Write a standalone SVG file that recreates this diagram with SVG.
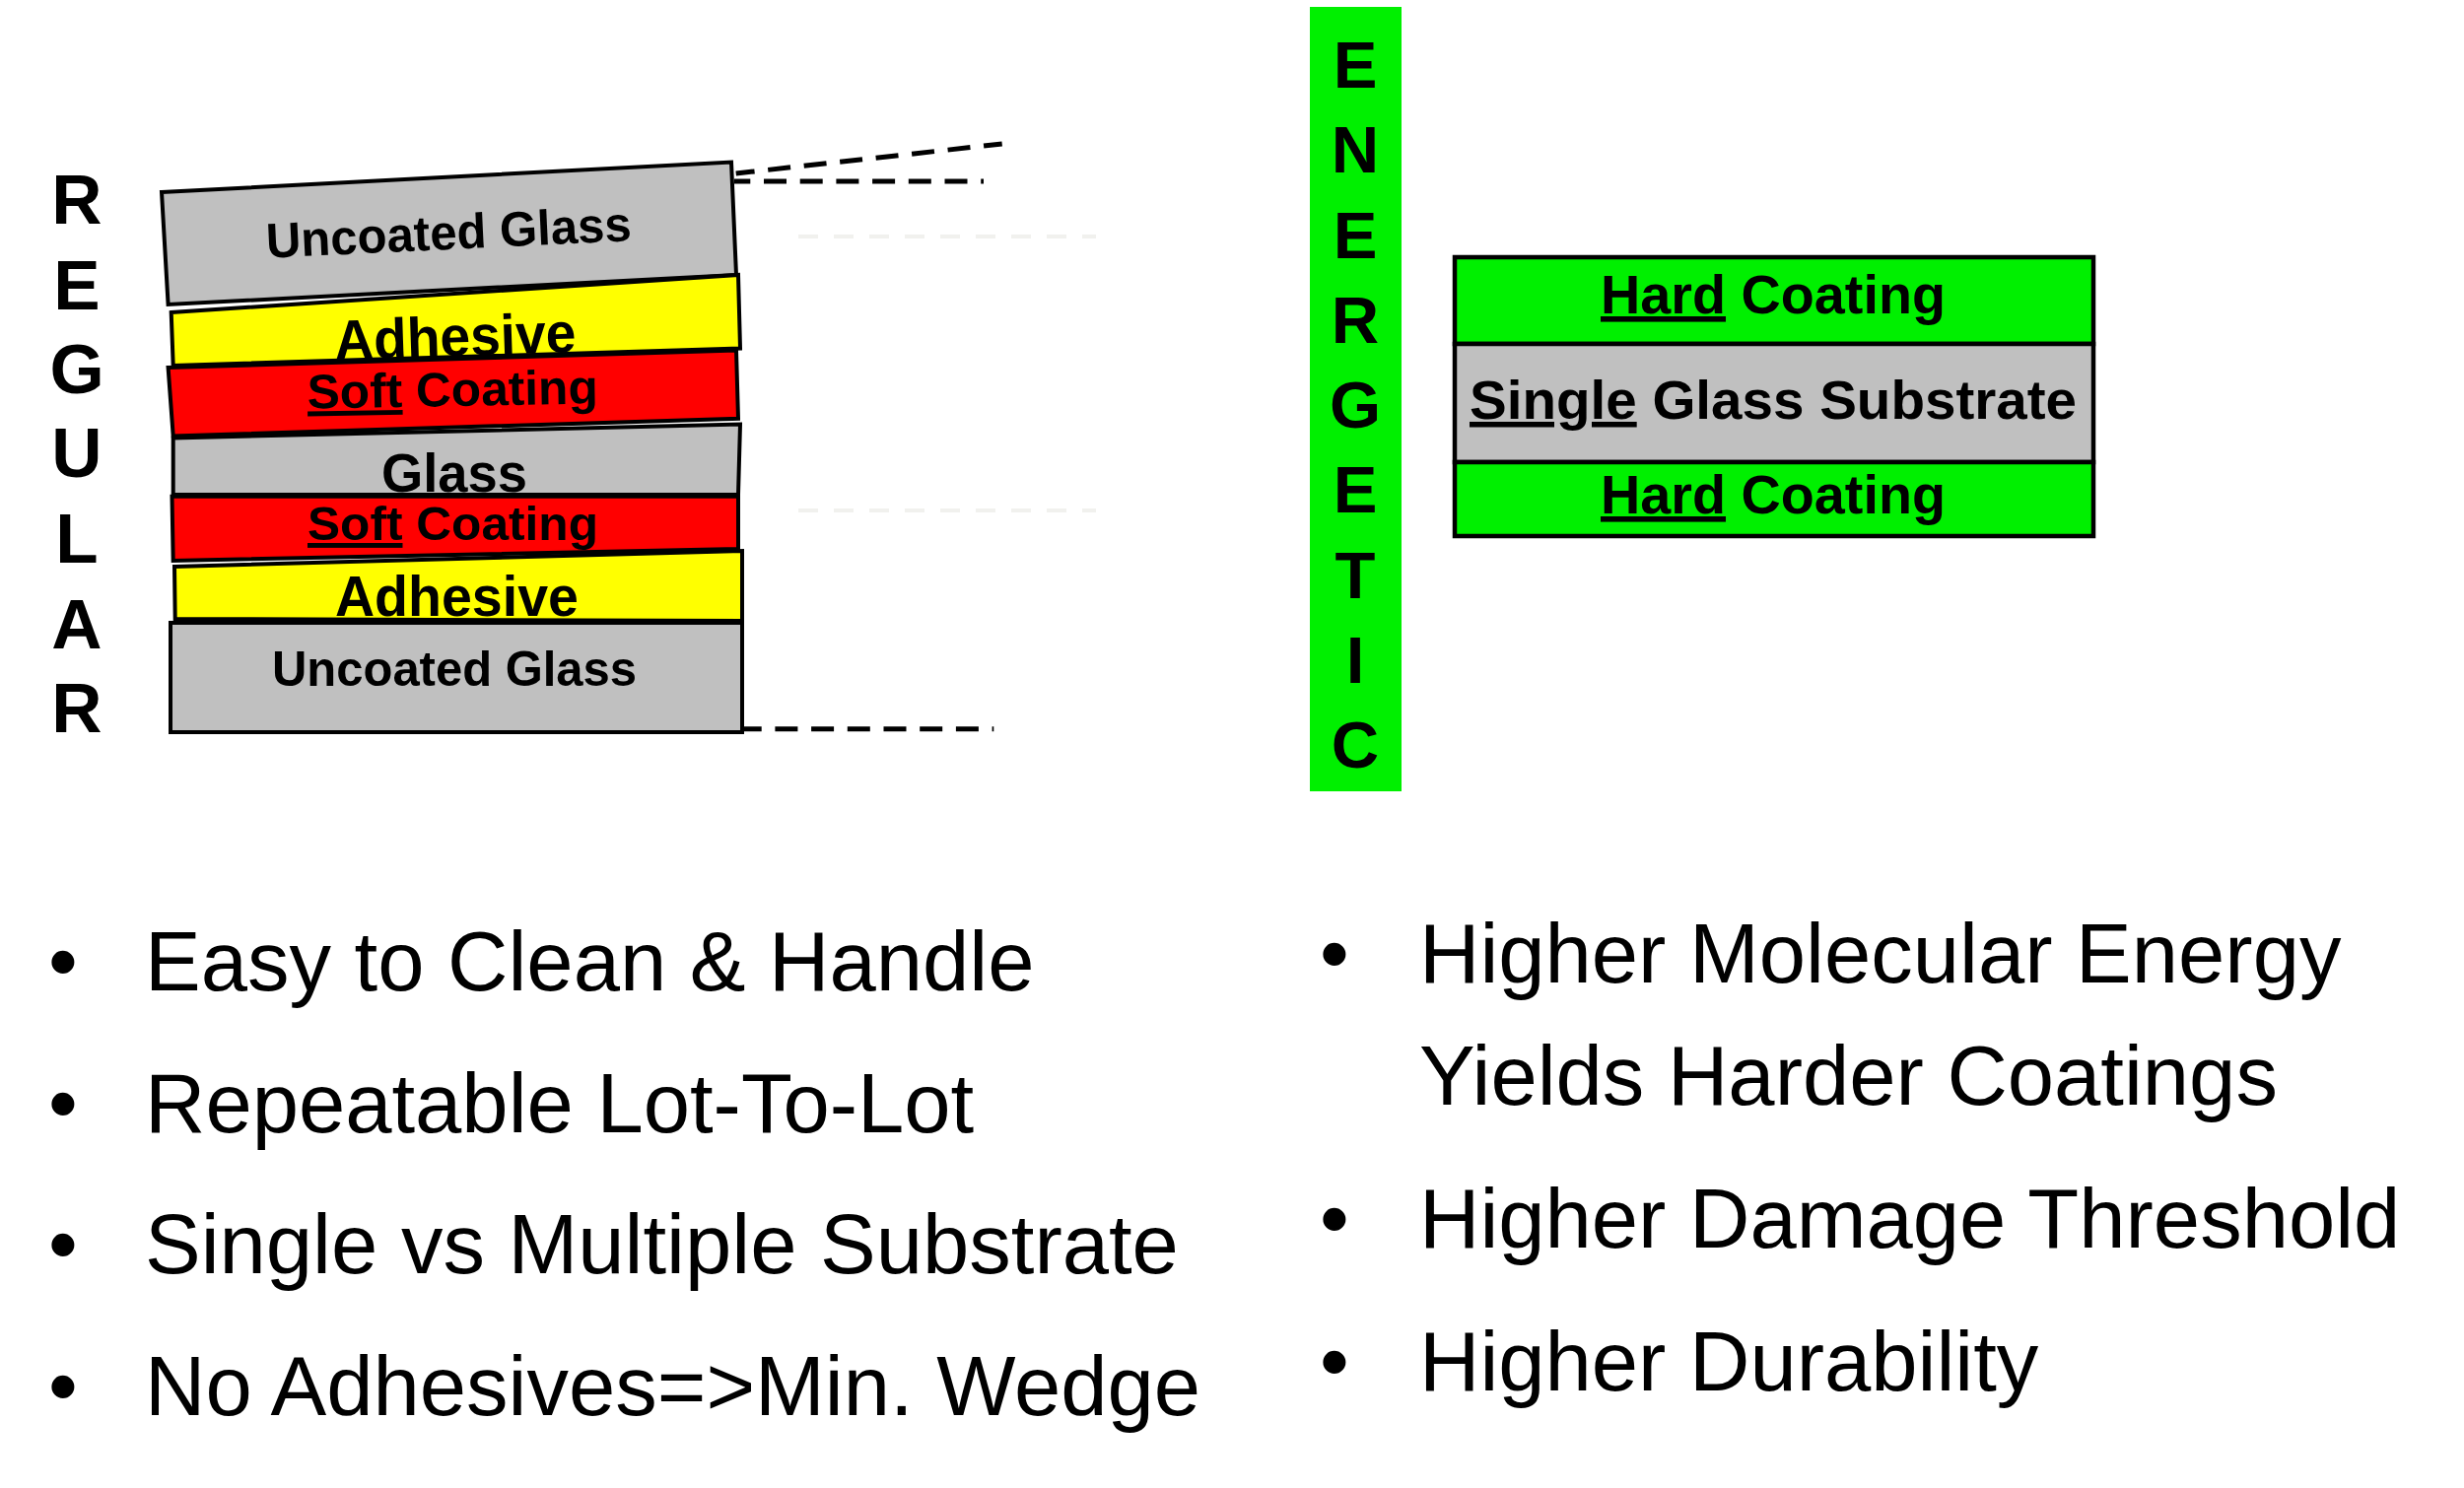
<svg xmlns="http://www.w3.org/2000/svg" width="2500" height="1510" viewBox="0 0 2500 1510">
<style>
.lay{stroke:#000;stroke-width:4;stroke-linejoin:miter}
.gray{fill:#c0c0c0}.yel{fill:#ffff00}.red{fill:#ff0000}.grn{fill:#00f000}
.lt{font-family:"Liberation Sans",Arial,sans-serif;font-weight:bold;fill:#000;text-anchor:middle}
.big{font-family:"Liberation Sans",Arial,sans-serif;font-weight:bold;fill:#000;text-anchor:middle}
.bul{font-family:"Liberation Sans",Arial,sans-serif;font-size:85px;fill:#000}
.dash{stroke:#000;stroke-width:5;stroke-dasharray:23 13.7;fill:none}
.faint{stroke:#f1f1ee;stroke-width:4;stroke-dasharray:20 16;fill:none}
.u{text-decoration:underline}
</style>
<rect width="2500" height="1510" fill="#fff"/>

<g id="regular-label" class="big" font-size="71">
<text x="78" y="227">R</text>
<text x="78" y="314">E</text>
<text x="78" y="399">G</text>
<text x="78" y="484">U</text>
<text x="78" y="571">L</text>
<text x="78" y="658">A</text>
<text x="78" y="743">R</text>
</g>

<g id="regular-stack">
<g id="uncoated-glass-top">
<polygon class="lay gray" points="164,195 742,164.5 747,279 170.6,309"/>
<text class="lt" font-size="50" x="456" y="253" textLength="371" lengthAdjust="spacingAndGlyphs" transform="rotate(-2.7 456 253)">Uncoated Glass</text>
</g>
<g id="adhesive-top">
<polygon class="lay yel" points="173.7,317 749,279 751,353.5 175.7,371"/>
<text class="lt" font-size="57" x="462.5" y="361" textLength="245" lengthAdjust="spacingAndGlyphs" transform="rotate(-1.9 462.5 361)">Adhesive</text>
</g>
<g id="soft-coating-top">
<polygon class="lay red" points="170.6,373 747,355.5 749,424.7 175.7,442.5"/>
<text class="lt" font-size="49" x="459.5" y="412" textLength="295" lengthAdjust="spacingAndGlyphs" transform="rotate(-1 459.5 412)"><tspan class="u">Soft</tspan> Coating</text>
</g>
<g id="glass-middle">
<polygon class="lay gray" points="175.7,444.5 751,430.6 749,502 175.7,502"/>
<text class="lt" font-size="55" x="461" y="499" textLength="148" lengthAdjust="spacingAndGlyphs">Glass</text>
</g>
<g id="soft-coating-bottom">
<polygon class="lay red" points="174.5,503.8 749,503.8 749,557 175.7,569"/>
<text class="lt" font-size="49" x="459.5" y="548" textLength="295" lengthAdjust="spacingAndGlyphs"><tspan class="u">Soft</tspan> Coating</text>
</g>
<g id="adhesive-bottom">
<polygon class="lay yel" points="177,575 753,559 753,630 177.7,628"/>
<text class="lt" font-size="57" x="463.5" y="625" textLength="247" lengthAdjust="spacingAndGlyphs">Adhesive</text>
</g>
<g id="uncoated-glass-bottom">
<polygon class="lay gray" points="173,632 753,632 753,743 173,743"/>
<text class="lt" font-size="50" x="461" y="696" textLength="370" lengthAdjust="spacingAndGlyphs">Uncoated Glass</text>
</g>
</g>

<g id="connectors">
<line class="dash" x1="746.7" y1="176" x2="1016.7" y2="146" stroke-dashoffset="4"/>
<line class="dash" x1="745" y1="184" x2="998" y2="184" stroke-dashoffset="6.7"/>
<line class="dash" x1="751.7" y1="739.7" x2="1008.3" y2="739.7" stroke-dasharray="20 16" stroke-dashoffset="2"/>
<line class="faint" x1="810" y1="240" x2="1112" y2="240"/>
<line class="faint" x1="810" y1="518" x2="1112" y2="518"/>
</g>

<g id="energetic-label">
<rect class="grn" x="1329" y="7" width="93" height="796"/>
<g class="big" font-size="67">
<text x="1375" y="89">E</text>
<text x="1375" y="175">N</text>
<text x="1375" y="261.5">E</text>
<text x="1375" y="348">R</text>
<text x="1375" y="434">G</text>
<text x="1375" y="520">E</text>
<text x="1375" y="607">T</text>
<text x="1375" y="693">I</text>
<text x="1375" y="779">C</text>
</g>
</g>

<g id="energetic-stack">
<g id="hard-coating-top">
<rect class="grn" x="1476" y="261" width="648" height="88" stroke="#000" stroke-width="4.5"/>
<text class="lt" font-size="56" x="1799" y="318" textLength="350" lengthAdjust="spacingAndGlyphs"><tspan class="u">Hard</tspan> Coating</text>
</g>
<g id="single-glass-substrate">
<rect class="gray" x="1476" y="349" width="648" height="120" stroke="#000" stroke-width="4.5"/>
<text class="lt" font-size="55" x="1799" y="425" textLength="616" lengthAdjust="spacingAndGlyphs"><tspan class="u">Single</tspan> Glass Substrate</text>
</g>
<g id="hard-coating-bottom">
<rect class="grn" x="1476" y="469" width="648" height="75" stroke="#000" stroke-width="4.5"/>
<text class="lt" font-size="56" x="1799" y="521" textLength="350" lengthAdjust="spacingAndGlyphs"><tspan class="u">Hard</tspan> Coating</text>
</g>
</g>

<g id="regular-bullets" class="bul">
<text x="49" y="1004.5">•</text><text x="147" y="1004.5">Easy to Clean &amp; Handle</text>
<text x="49" y="1149">•</text><text x="147" y="1149">Repeatable Lot-To-Lot</text>
<text x="49" y="1292">•</text><text x="147" y="1292">Single vs Multiple Substrate</text>
<text x="49" y="1435.5">•</text><text x="147" y="1435.5">No Adhesives=&gt;Min. Wedge</text>
</g>

<g id="energetic-bullets" class="bul">
<text x="1339" y="996.5">•</text><text x="1440" y="996.5">Higher Molecular Energy</text>
<text x="1440" y="1121">Yields Harder Coatings</text>
<text x="1339" y="1266">•</text><text x="1440" y="1266">Higher Damage Threshold</text>
<text x="1339" y="1410.5">•</text><text x="1440" y="1410.5">Higher Durability</text>
</g>
</svg>
